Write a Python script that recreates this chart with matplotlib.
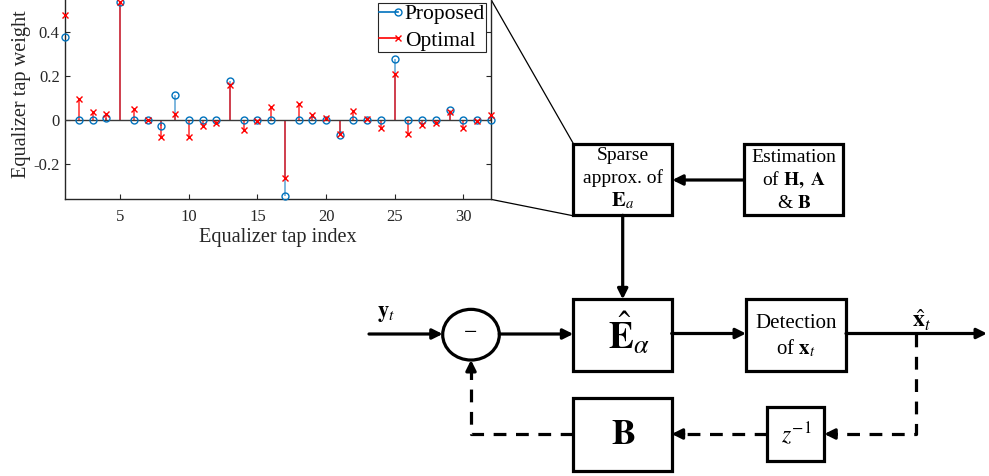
import numpy as np
import matplotlib.pyplot as plt
from matplotlib.patches import Rectangle, Ellipse
from matplotlib.lines import Line2D

plt.rcParams['font.family'] = ['Liberation Serif', 'DejaVu Serif']
plt.rcParams['mathtext.fontset'] = 'stix'
plt.rcParams['axes.unicode_minus'] = False

# equalizer taps: sparse (proposed) vs. full optimal solution
taps = np.arange(1, 33)
proposed = [0.377, 0, 0, 0.008, 0.535, 0, 0, -0.029, 0.112, 0, 0, 0,
            0.177, 0, 0, 0, -0.344, 0, 0, 0, -0.068, 0, 0, 0,
            0.277, 0, 0, 0, 0.045, 0, 0, 0]
optimal = [0.48, 0.098, 0.036, 0.027, 0.535, 0.049, 0.002, -0.076,
           0.026, -0.079, -0.027, -0.015, 0.159, -0.047, -0.002, 0.058,
           -0.262, 0.073, 0.024, 0.01, -0.061, 0.041, 0.006, -0.035,
           0.21, -0.062, -0.023, -0.012, 0.035, -0.038, -0.005, 0.023]
tap_ticks = [5, 10, 15, 20, 25, 30]
weight_ticks = [-0.2, 0, 0.2, 0.4]
weight_labels = ['-0.2', '0', '0.2', '0.4']

BLUE = '#0072BD'
RED = '#FF0000'

W, H = 989, 476
fig = plt.figure(figsize=(W / 100, H / 100), dpi=100)

# ---- block diagram, drawn in pixel coordinates ----
d = fig.add_axes([0, 0, 1, 1])
d.set_xlim(0, W)
d.set_ylim(H, 0)
d.axis('off')

LW = 2.3
DASH = (0, (4, 3))


def box(x0, y0, x1, y1):
    d.add_patch(Rectangle((x0, y0), x1 - x0, y1 - y0, fill=False,
                          lw=LW, ec='k', joinstyle='miter'))


def arrow(p0, p1):
    d.annotate('', xy=p1, xytext=p0,
               arrowprops=dict(arrowstyle='-|>,head_length=0.6,head_width=0.3',
                               lw=LW, color='k', shrinkA=0, shrinkB=0,
                               mutation_scale=10))


def dashed(xs, ys):
    # dashed path, the last short piece carries a solid head
    d.plot(xs[:-1] + [xs[-1] + np.sign(xs[-2] - xs[-1]) * 10],
           ys[:-1] + [ys[-1] + np.sign(ys[-2] - ys[-1]) * 10],
           color='k', lw=LW, ls=DASH, dash_capstyle='butt')
    arrow((xs[-1] + np.sign(xs[-2] - xs[-1]) * 12,
           ys[-1] + np.sign(ys[-2] - ys[-1]) * 12), (xs[-1], ys[-1]))


# zoom lines from the plot to the sparse approximation block
d.plot([490.7, 573.3], [-1, 143.5], color='k', lw=0.9)
d.plot([490.7, 573.3], [199.3, 215.8], color='k', lw=0.9)

box(573.3, 144, 672.3, 215.3)
d.text(622.7, 155, 'Sparse', fontsize=14, ha='center', va='center')
d.text(622.7, 178, 'approx. of', fontsize=14, ha='center', va='center')
d.text(622.7, 201, r'$\mathbf{E}_{a}$', fontsize=15, ha='center', va='center')

box(744.3, 144, 843.3, 215.3)
d.text(794, 157, 'Estimation', fontsize=14, ha='center', va='center')
d.text(794, 180, r'of $\mathbf{H,\ A}$', fontsize=14, ha='center', va='center')
d.text(794, 203, r'& $\mathbf{B}$', fontsize=14, ha='center', va='center')
arrow((744.3, 180), (672.3, 180))
arrow((622.7, 215.3), (622.7, 299.3))

# forward path
d.text(386, 314, r'$\mathbf{y}_t$', fontsize=16, ha='center', va='center')
arrow((369, 334), (442.7, 334))
d.add_patch(Ellipse((471, 334.7), 56.6, 50.7, fill=False, lw=LW, ec='k'))
d.text(471, 334, '\u2212', fontsize=17, ha='center', va='center')
arrow((499.3, 334), (573.3, 334))

box(573.3, 299.3, 671.7, 370.7)
d.text(629, 334, r'$\hat{\mathbf{E}}_{\alpha}$', fontsize=27, ha='center', va='center')
arrow((671.7, 333.5), (746, 333.5))

box(746, 299.3, 846, 370.7)
d.text(796, 323, 'Detection', fontsize=15, ha='center', va='center')
d.text(796, 348, r'of $\mathbf{x}_t$', fontsize=15, ha='center', va='center')
arrow((846, 333.5), (987, 333.5))
d.text(921.7, 320, r'$\hat{\mathbf{x}}_t$', fontsize=17, ha='center', va='center')

# feedback path
box(767.3, 407.3, 824.3, 461)
d.text(796, 434, r'$z^{-1}$', fontsize=17, ha='center', va='center')
dashed([915.7, 915.7, 824.3], [333.5, 434, 434])
dashed([767.3, 671.7], [434, 434])

box(573.3, 398.3, 671.7, 470.7)
d.text(623, 436, r'$\mathbf{B}$', fontsize=26, ha='center', va='center')
dashed([573.3, 471, 471], [434, 434, 360])

# ---- stem plot of the tap weights ----
ylo, yhi = -0.36, 0.6
px_per_unit = 220.0
ax_h = (yhi - ylo) * px_per_unit
ax_w = 425.4
ax = fig.add_axes([65.3 / W, 1 - 199.3 / H, ax_w / W, ax_h / H])

ml1, sl1, bl1 = ax.stem(taps, proposed, basefmt=' ')
ml2, sl2, bl2 = ax.stem(taps, optimal, basefmt=' ')
plt.setp(sl1, color=BLUE, lw=1.3, alpha=0.55, zorder=2)
plt.setp(sl2, color=RED, lw=1.3, alpha=0.7, zorder=2.1)
plt.setp(ml1, marker='o', mfc='none', mec=BLUE, ms=5, mew=1.0,
         clip_on=False, zorder=4)
plt.setp(ml2, marker='x', mec=RED, ms=5, mew=1.0, clip_on=False, zorder=4.1)
ax.axhline(0, color='#3a3a3a', lw=1.0, zorder=3)

ax.set_xlim(1, 32)
ax.set_ylim(ylo, yhi)
ax.set_xticks(tap_ticks)
ax.set_yticks(weight_ticks)
ax.set_yticklabels(weight_labels)
ax.tick_params(direction='in', top=True, right=True, length=3.5,
               width=0.8, labelsize=12, colors='#262626')
ax.tick_params(axis='x', pad=7)
ax.tick_params(axis='y', pad=4)
for s in ax.spines.values():
    s.set_linewidth(1.0)
    s.set_color('#262626')
ax.set_xlabel('Equalizer tap index', fontsize=14.6, color='#262626', labelpad=2)
ax.set_ylabel('Equalizer tap weight', fontsize=14.6, color='#262626')
ax.yaxis.set_label_coords((31 - 65.3) / ax_w, 0.5)

handles = [Line2D([], [], color=BLUE, lw=1.2, marker='o', mfc='none', ms=5),
           Line2D([], [], color=RED, lw=1.2, marker='x', ms=5)]
leg = ax.legend(handles, ['Proposed', 'Optimal'], loc='lower right',
                bbox_to_anchor=(0.989, 0.697), borderaxespad=0,
                fontsize=15.5, handlelength=0.9, handletextpad=0.3,
                labelspacing=0.3, borderpad=0.05, fancybox=False,
                framealpha=1, edgecolor='#262626')
leg.get_frame().set_linewidth(0.8)
for h in leg.legend_handles:
    h.set_markevery([2])

fig.savefig('out.png', dpi=100)
